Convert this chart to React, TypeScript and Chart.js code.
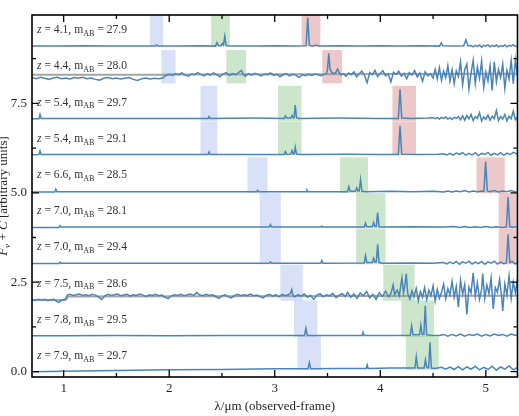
import React, { useEffect, useRef } from "react";
import { Chart, registerables } from "chart.js";

Chart.register(...registerables);

type Pt = [number, number];

// Source properties, top to bottom
const redshifts = [4.047, 4.35, 5.38, 5.38, 6.616, 6.94, 6.94, 7.48, 7.84, 7.93];
const zLabels = ["4.1", "4.4", "5.4", "5.4", "6.6", "7.0", "7.0", "7.5", "7.8", "7.9"];
const magLabels = ["27.9", "28.0", "29.7", "29.1", "28.5", "28.1", "29.4", "28.6", "29.5", "29.7"];
const offsets = [9, 8, 7, 6, 5, 4, 3, 2, 1, 0];
const bandFloor = [9.1, 8.06, 7.0, 6.06, 4.99, 4.0, 3.0, 1.98, 0.97, 0.05];

// Rest-frame windows (Angstrom): [OII], Hbeta+[OIII], Halpha
const windowOII: Pt = [3600, 3850];
const windowOIII: Pt = [4750, 5100];
const windowHa: Pt = [6450, 6800];

const xTicks = [1, 2, 3, 4, 5];
const xMinor = [1.5, 2.5, 3.5, 4.5];
const yTicks = [0, 2.5, 5, 7.5];
const yMinor = [1.25, 3.75, 6.25, 8.75];

// Spectra: [wavelength in micron, flux above offset]
const spec1: Pt[] = [
  [0.70, 0.10], [0.95, 0.10], [1.20, 0.11], [1.45, 0.10], [1.70, 0.10], [1.87, 0.10], [1.881, 0.13], [1.893, 0.10],
  [2.10, 0.10], [2.30, 0.11], [2.44, 0.10], [2.453, 0.20], [2.466, 0.11], [2.49, 0.11], [2.503, 0.17], [2.514, 0.13],
  [2.527, 0.38], [2.54, 0.11], [2.60, 0.10], [2.80, 0.10], [3.00, 0.11], [3.20, 0.10], [3.297, 0.11], [3.3125, 0.90],
  [3.328, 0.12], [3.36, 0.10], [3.393, 0.13], [3.41, 0.10], [3.60, 0.11], [3.80, 0.10], [4.00, 0.11], [4.20, 0.10],
  [4.40, 0.11], [4.562, 0.10], [4.577, 0.19], [4.592, 0.11], [4.70, 0.10], [4.79, 0.11], [4.811, 0.28], [4.83, 0.11],
  [4.86, 0.12], [4.88, 0.08], [4.90, 0.12], [4.92, 0.09], [4.94, 0.13], [4.96, 0.07], [4.98, 0.12], [5.00, 0.10],
  [5.02, 0.14], [5.04, 0.08], [5.06, 0.12], [5.08, 0.09], [5.10, 0.13], [5.12, 0.08], [5.14, 0.11], [5.16, 0.09],
  [5.18, 0.13], [5.20, 0.08], [5.22, 0.12], [5.24, 0.10], [5.26, 0.14], [5.28, 0.09], [5.30, 0.11],
];

const spec2: Pt[] = [
  [0.70, 0.22], [0.74, 0.19], [0.78, 0.23], [0.82, 0.20], [0.86, 0.17], [0.90, 0.21], [0.94, 0.23], [0.98, 0.19],
  [1.02, 0.21], [1.06, 0.18], [1.10, 0.22], [1.14, 0.20], [1.18, 0.23], [1.22, 0.19], [1.26, 0.21], [1.30, 0.17],
  [1.34, 0.15], [1.38, 0.20], [1.42, 0.22], [1.46, 0.19], [1.50, 0.21], [1.54, 0.18], [1.58, 0.20], [1.62, 0.22],
  [1.66, 0.17], [1.70, 0.14], [1.74, 0.19], [1.78, 0.21], [1.82, 0.18], [1.86, 0.20], [1.90, 0.19], [1.94, 0.21],
  [1.97, 0.28], [2.00, 0.31], [2.03, 0.28], [2.06, 0.33], [2.09, 0.30], [2.12, 0.35], [2.15, 0.29], [2.18, 0.26],
  [2.21, 0.32], [2.24, 0.30], [2.27, 0.36], [2.30, 0.31], [2.33, 0.27], [2.36, 0.33], [2.39, 0.29], [2.42, 0.35],
  [2.45, 0.30], [2.48, 0.24], [2.51, 0.32], [2.54, 0.36], [2.57, 0.28], [2.60, 0.33], [2.63, 0.30], [2.66, 0.37],
  [2.684, 0.42], [2.70, 0.31], [2.72, 0.26], [2.75, 0.33], [2.78, 0.29], [2.81, 0.34], [2.84, 0.31], [2.87, 0.27],
  [2.90, 0.32], [2.93, 0.30], [2.96, 0.35], [2.99, 0.28], [3.02, 0.31], [3.05, 0.25], [3.08, 0.30], [3.11, 0.33],
  [3.14, 0.27], [3.17, 0.31], [3.20, 0.29], [3.23, 0.22], [3.26, 0.30], [3.29, 0.27], [3.32, 0.31], [3.35, 0.28],
  [3.38, 0.32], [3.41, 0.30], [3.44, 0.27], [3.47, 0.31], [3.49, 0.33], [3.500, 0.45], [3.512, 0.90], [3.524, 0.46],
  [3.54, 0.36], [3.56, 0.33], [3.58, 0.37], [3.595, 0.46], [3.61, 0.36], [3.63, 0.29], [3.65, 0.33],
  [3.675, 0.26], [3.70, 0.35], [3.725, 0.30], [3.75, 0.38], [3.775, 0.24], [3.80, 0.33], [3.825, 0.40], [3.85, 0.28],
  [3.875, 0.08], [3.90, 0.36], [3.925, 0.30], [3.95, 0.42], [3.975, 0.25], [4.00, 0.34], [4.025, 0.41], [4.05, 0.27],
  [4.075, 0.33], [4.10, 0.10], [4.125, 0.37], [4.15, 0.31], [4.175, 0.40], [4.20, 0.26], [4.225, 0.34], [4.25, 0.19],
  [4.275, 0.36], [4.30, 0.29], [4.325, 0.42], [4.35, 0.24], [4.375, 0.35], [4.40, 0.12], [4.425, 0.38], [4.45, 0.27],
  [4.475, 0.33], [4.50, 0.21], [4.52, 0.45], [4.54, 0.18], [4.56, 0.50], [4.58, 0.14], [4.60, 0.40], [4.62, 0.22],
  [4.64, 0.55], [4.66, 0.12], [4.68, 0.44], [4.70, 0.05], [4.72, 0.41], [4.74, 0.25], [4.76, 0.66], [4.78, 0.02],
  [4.80, 0.45], [4.82, 0.60], [4.84, -0.10], [4.86, 0.35], [4.88, 0.70], [4.90, 0.05], [4.92, 0.52], [4.94, 0.20],
  [4.96, 0.68], [4.98, -0.05], [5.00, 0.38], [5.02, 0.12], [5.04, 0.55], [5.06, -0.14], [5.08, 0.66], [5.10, 0.10],
  [5.12, 0.45], [5.14, 0.22], [5.16, 0.60], [5.18, -0.08], [5.20, 0.42], [5.22, 0.18], [5.24, 0.70], [5.26, 0.05],
  [5.28, 0.72], [5.30, 0.25],
];

const spec3: Pt[] = [
  [0.70, 0.07], [0.766, 0.07], [0.776, 0.19], [0.786, 0.08], [1.20, 0.08], [1.70, 0.08], [2.10, 0.08], [2.368, 0.08],
  [2.378, 0.13], [2.388, 0.08], [2.80, 0.09], [3.089, 0.08], [3.101, 0.15], [3.113, 0.09], [3.152, 0.09], [3.164, 0.16],
  [3.176, 0.09], [3.184, 0.11], [3.194, 0.45], [3.206, 0.10], [3.23, 0.08], [3.60, 0.09], [4.00, 0.08], [4.171, 0.08],
  [4.187, 0.89], [4.203, 0.09], [4.30, 0.08], [4.45, 0.09], [4.50, 0.10], [4.52, 0.07], [4.54, 0.10], [4.56, 0.06],
  [4.58, 0.11], [4.60, 0.08], [4.62, 0.12], [4.64, 0.06], [4.66, 0.10], [4.68, 0.05], [4.70, 0.11], [4.72, 0.08],
  [4.74, 0.13], [4.76, 0.04], [4.78, 0.15], [4.80, 0.03], [4.82, 0.16], [4.84, 0.07], [4.86, 0.19], [4.88, 0.02],
  [4.90, 0.13], [4.92, 0.08], [4.94, 0.24], [4.96, 0.01], [4.98, 0.12], [5.00, 0.05], [5.02, 0.17], [5.04, 0.03],
  [5.06, 0.14], [5.08, 0.07], [5.10, 0.30], [5.12, 0.02], [5.14, 0.13], [5.16, 0.06], [5.18, 0.19], [5.20, 0.01],
  [5.22, 0.14], [5.24, 0.07], [5.26, 0.28], [5.28, 0.04], [5.30, 0.12],
];

const spec4: Pt[] = [
  [0.70, 0.06], [0.766, 0.07], [0.776, 0.17], [0.786, 0.07], [1.20, 0.07], [1.70, 0.07], [2.10, 0.07], [2.368, 0.07],
  [2.378, 0.14], [2.388, 0.07], [2.80, 0.07], [3.089, 0.07], [3.101, 0.15], [3.113, 0.07], [3.152, 0.08], [3.164, 0.18],
  [3.176, 0.08], [3.184, 0.09], [3.194, 0.28], [3.206, 0.08], [3.24, 0.07], [3.70, 0.08], [4.00, 0.07], [4.171, 0.07],
  [4.187, 0.87], [4.203, 0.08], [4.35, 0.07], [4.55, 0.08], [4.60, 0.09], [4.63, 0.06], [4.66, 0.10], [4.69, 0.05],
  [4.72, 0.11], [4.75, 0.07], [4.78, 0.12], [4.81, 0.05], [4.84, 0.10], [4.87, 0.06], [4.90, 0.12], [4.93, 0.04],
  [4.96, 0.10], [4.99, 0.07], [5.02, 0.13], [5.05, 0.05], [5.08, 0.10], [5.11, 0.06], [5.14, 0.12], [5.17, 0.05],
  [5.20, 0.11], [5.23, 0.07], [5.26, 0.13], [5.30, 0.08],
];

const spec5: Pt[] = [
  [0.70, 0.02], [0.915, 0.02], [0.926, 0.10], [0.937, 0.03], [1.30, 0.03], [1.80, 0.03], [2.30, 0.03], [2.828, 0.03],
  [2.838, 0.07], [2.848, 0.03], [3.10, 0.03], [3.297, 0.03], [3.305, 0.07], [3.313, 0.03], [3.690, 0.03], [3.702, 0.17],
  [3.714, 0.04], [3.765, 0.04], [3.777, 0.14], [3.789, 0.05], [3.800, 0.05], [3.813, 0.37], [3.826, 0.04], [3.86, 0.03],
  [4.10, 0.04], [4.30, 0.03], [4.50, 0.04], [4.60, 0.02], [4.64, 0.05], [4.68, 0.02], [4.72, 0.05], [4.76, 0.03],
  [4.80, 0.06], [4.84, 0.02], [4.88, 0.05], [4.92, 0.03], [4.96, 0.05], [4.982, 0.04], [4.998, 0.87], [5.014, 0.05],
  [5.04, 0.03], [5.08, 0.06], [5.12, 0.02], [5.16, 0.05], [5.20, 0.03], [5.24, 0.06], [5.28, 0.02], [5.30, 0.04],
];

const spec6: Pt[] = [
  [0.70, 0.03], [0.955, 0.03], [0.965, 0.08], [0.975, 0.04], [1.50, 0.04], [2.00, 0.04], [2.50, 0.04], [2.948, 0.04],
  [2.959, 0.11], [2.970, 0.04], [3.20, 0.04], [3.438, 0.04], [3.446, 0.07], [3.454, 0.04], [3.848, 0.04], [3.860, 0.15],
  [3.872, 0.05], [3.925, 0.05], [3.937, 0.17], [3.949, 0.06], [3.962, 0.06], [3.975, 0.45], [3.988, 0.05], [4.02, 0.04],
  [4.30, 0.05], [4.60, 0.04], [4.70, 0.06], [4.75, 0.03], [4.80, 0.06], [4.85, 0.03], [4.90, 0.05], [4.95, 0.03],
  [5.00, 0.06], [5.05, 0.03], [5.10, 0.05], [5.15, 0.03], [5.195, 0.04], [5.211, 0.88], [5.227, 0.05], [5.26, 0.04],
  [5.30, 0.06],
];

const spec7: Pt[] = [
  [0.70, 0.02], [0.955, 0.02], [0.965, 0.06], [0.975, 0.03], [1.50, 0.03], [2.00, 0.03], [2.50, 0.03], [2.948, 0.03],
  [2.959, 0.07], [2.970, 0.03], [3.20, 0.03], [3.436, 0.03], [3.446, 0.11], [3.456, 0.03], [3.848, 0.04], [3.860, 0.24],
  [3.872, 0.05], [3.925, 0.05], [3.937, 0.17], [3.949, 0.06], [3.962, 0.07], [3.975, 0.56], [3.988, 0.05], [4.02, 0.03],
  [4.30, 0.04], [4.50, 0.03], [4.60, 0.05], [4.63, 0.01], [4.66, 0.06], [4.69, 0.02], [4.72, 0.08], [4.75, 0.00],
  [4.78, 0.07], [4.81, 0.03], [4.84, 0.09], [4.87, 0.01], [4.90, 0.06], [4.93, 0.02], [4.96, 0.08], [4.99, 0.00],
  [5.02, 0.07], [5.05, 0.03], [5.08, 0.09], [5.11, 0.01], [5.14, 0.06], [5.17, 0.02], [5.195, 0.04], [5.211, 0.84],
  [5.227, 0.05], [5.25, 0.08], [5.28, 0.01], [5.30, 0.05],
];

const spec8: Pt[] = [
  [0.70, 0.01], [0.73, -0.01], [0.76, 0.02], [0.79, 0.00], [0.82, 0.02], [0.85, -0.02], [0.88, 0.01], [0.91, 0.02],
  [0.93, -0.03], [0.955, -0.07], [0.975, -0.01], [1.00, 0.01], [1.02, 0.04], [1.035, 0.14], [1.06, 0.16], [1.09, 0.13],
  [1.12, 0.15], [1.15, 0.17], [1.18, 0.13], [1.21, 0.15], [1.24, 0.12], [1.27, 0.16], [1.30, 0.14], [1.33, 0.09],
  [1.36, 0.02], [1.39, 0.12], [1.42, 0.16], [1.45, 0.13], [1.48, 0.15], [1.51, 0.17], [1.54, 0.12], [1.57, 0.14],
  [1.60, 0.16], [1.63, 0.11], [1.66, 0.15], [1.69, 0.13], [1.72, 0.17], [1.75, 0.14], [1.78, 0.10], [1.81, 0.15],
  [1.84, 0.13], [1.87, 0.16], [1.90, 0.12], [1.93, 0.14], [1.96, 0.08], [1.99, 0.04], [2.02, 0.12], [2.05, 0.15],
  [2.08, 0.13], [2.11, 0.16], [2.14, 0.12], [2.17, 0.14], [2.20, 0.17], [2.23, 0.13], [2.26, 0.21], [2.29, 0.14],
  [2.32, 0.12], [2.35, 0.16], [2.38, 0.13], [2.41, 0.15], [2.44, 0.10], [2.47, 0.05], [2.50, 0.12], [2.53, 0.15],
  [2.56, 0.09], [2.59, 0.06], [2.62, 0.13], [2.65, 0.16], [2.68, 0.12], [2.71, 0.15], [2.74, 0.13], [2.77, 0.17],
  [2.80, 0.12], [2.83, 0.14], [2.86, 0.10], [2.89, 0.06], [2.92, 0.13], [2.95, 0.16], [2.98, 0.11], [3.01, 0.15],
  [3.04, 0.09], [3.07, 0.16], [3.10, 0.12], [3.13, 0.15], [3.150, 0.19], [3.161, 0.29], [3.172, 0.14], [3.19, 0.09],
  [3.22, 0.15], [3.25, 0.11], [3.28, 0.17], [3.31, 0.08], [3.34, 0.13], [3.37, 0.02], [3.40, 0.14], [3.43, 0.18],
  [3.46, 0.09], [3.49, 0.15], [3.52, 0.12], [3.55, 0.19], [3.58, 0.07], [3.61, 0.14], [3.64, 0.18], [3.67, 0.10],
  [3.69, 0.22], [3.72, 0.08], [3.75, 0.17], [3.78, 0.05], [3.81, 0.20], [3.84, 0.12], [3.87, 0.24], [3.90, 0.06],
  [3.93, 0.16], [3.96, 0.02], [3.99, 0.21], [4.02, 0.10], [4.05, 0.25], [4.08, 0.09], [4.10, 0.18], [4.122, 0.42],
  [4.135, 0.15], [4.16, 0.28], [4.18, 0.12], [4.205, 0.62], [4.22, 0.20], [4.232, 0.38], [4.246, 0.74], [4.26, 0.18],
  [4.28, 0.03], [4.30, 0.26], [4.32, 0.10], [4.34, 0.33], [4.36, -0.02], [4.38, 0.24], [4.40, 0.08], [4.42, 0.35],
  [4.44, 0.02], [4.46, 0.28], [4.48, 0.12], [4.50, 0.40], [4.52, -0.03], [4.54, 0.30], [4.56, 0.05], [4.58, 0.22],
  [4.60, 0.45], [4.62, 0.04], [4.64, 0.32], [4.66, 0.15], [4.68, 0.52], [4.70, 0.08], [4.72, 0.38], [4.74, -0.20],
  [4.76, 0.55], [4.78, 0.16], [4.80, 0.44], [4.82, -0.40], [4.84, 0.36], [4.86, 0.20], [4.88, 0.76], [4.90, 0.10],
  [4.92, 0.48], [4.94, 0.02], [4.96, 0.30], [4.97, 0.74], [4.99, 0.05], [5.01, 0.42], [5.03, 0.18], [5.05, 0.62],
  [5.07, -0.25], [5.09, 0.35], [5.11, 0.22], [5.13, 0.58], [5.15, 0.08], [5.16, -0.30], [5.18, 0.45], [5.20, 0.14],
  [5.22, 0.68], [5.24, 0.05], [5.26, 0.50], [5.28, 0.20], [5.30, 0.60],
];

const spec9: Pt[] = [
  [0.70, 0.00], [1.00, 0.00], [1.50, 0.01], [2.00, 0.00], [2.50, 0.01], [3.00, 0.01], [3.282, 0.01], [3.295, 0.21],
  [3.308, 0.01], [3.50, 0.01], [3.828, 0.01], [3.837, 0.10], [3.846, 0.01], [4.10, 0.01], [4.284, 0.02], [4.297, 0.28],
  [4.310, 0.03], [4.372, 0.03], [4.384, 0.30], [4.396, 0.04], [4.413, 0.04], [4.426, 0.84], [4.439, 0.03], [4.48, 0.02],
  [4.56, 0.01], [4.60, 0.04], [4.64, -0.01], [4.68, 0.04], [4.72, 0.00], [4.76, 0.05], [4.80, -0.01], [4.84, 0.04],
  [4.88, 0.01], [4.92, 0.05], [4.96, -0.01], [5.00, 0.04], [5.04, 0.00], [5.08, 0.05], [5.12, 0.01], [5.16, 0.04],
  [5.20, -0.01], [5.24, 0.05], [5.28, 0.01], [5.30, 0.03],
];

const spec10: Pt[] = [
  [0.70, 0.00], [1.00, 0.01], [1.50, 0.03], [2.00, 0.05], [2.50, 0.06], [3.00, 0.08], [3.315, 0.08], [3.328, 0.25],
  [3.341, 0.08], [3.60, 0.09], [3.867, 0.09], [3.876, 0.19], [3.885, 0.09], [4.10, 0.10], [4.328, 0.10], [4.341, 0.42],
  [4.354, 0.10], [4.415, 0.10], [4.428, 0.33], [4.441, 0.11], [4.458, 0.11], [4.471, 0.82], [4.484, 0.10], [4.52, 0.09],
  [4.58, 0.12], [4.62, 0.07], [4.66, 0.13], [4.70, 0.06], [4.74, 0.14], [4.78, 0.05], [4.82, 0.13], [4.86, 0.07],
  [4.90, 0.15], [4.94, 0.05], [4.98, 0.12], [5.02, 0.06], [5.06, 0.15], [5.10, 0.04], [5.14, 0.13], [5.18, 0.07],
  [5.22, 0.16], [5.26, 0.05], [5.30, 0.12],
];

// Smooth continuum models for the two bright sources
const model2: Pt[] = [[0.70, 0.30], [1.95, 0.30], [1.98, 0.31], [5.30, 0.33]];
const model8: Pt[] = [[0.70, 0.00], [1.02, 0.00], [1.04, 0.10], [5.30, 0.12]];

const spectra: Pt[][] = [spec1, spec2, spec3, spec4, spec5, spec6, spec7, spec8, spec9, spec10];

const SERIF = "'Liberation Serif', 'Times New Roman', Times, serif";
const LINE_COLOR = "#4a85b8";
const MODEL_COLOR = "rgba(155,155,155,0.9)";
const TEXT_COLOR = "#262626";

const windowColors: [Pt, string][] = [
  [windowOII, "rgba(65,105,225,0.2)"],
  [windowOIII, "rgba(0,128,0,0.2)"],
  [windowHa, "rgba(178,34,34,0.25)"],
];

type Piece = { t: string; italic?: boolean; sub?: boolean };

function drawPieces(ctx: CanvasRenderingContext2D, pieces: Piece[], x: number, y: number, size: number, center: boolean) {
  const font = (p: Piece) => `${p.italic ? "italic " : ""}${p.sub ? size * 0.7 : size}px ${SERIF}`;
  let total = 0;
  for (const p of pieces) {
    ctx.font = font(p);
    total += ctx.measureText(p.t).width;
  }
  let cx = center ? x - total / 2 : x;
  for (const p of pieces) {
    ctx.font = font(p);
    ctx.fillText(p.t, cx, p.sub ? y + size * 0.25 : y);
    cx += ctx.measureText(p.t).width;
  }
}

const windowPlugin = {
  id: "lineWindows",
  beforeDatasetsDraw(chart: any) {
    const { ctx, chartArea: a, scales } = chart;
    const xs = scales.x;
    const ys = scales.y;
    ctx.save();
    ctx.beginPath();
    ctx.rect(a.left, a.top, a.right - a.left, a.bottom - a.top);
    ctx.clip();
    redshifts.forEach((z, i) => {
      const yTop = ys.getPixelForValue(offsets[i] + 0.99);
      const yBot = ys.getPixelForValue(bandFloor[i]);
      windowColors.forEach(([w, color]) => {
        const x0 = xs.getPixelForValue((w[0] * (1 + z)) / 1e4);
        const x1 = xs.getPixelForValue((w[1] * (1 + z)) / 1e4);
        ctx.fillStyle = color;
        ctx.fillRect(x0, yTop, x1 - x0, yBot - yTop);
      });
    });
    ctx.restore();
  },
};

const framePlugin = {
  id: "frameAndLabels",
  afterDraw(chart: any) {
    const { ctx, chartArea: a, scales } = chart;
    const xs = scales.x;
    const ys = scales.y;
    ctx.save();
    ctx.strokeStyle = "#000";
    ctx.lineWidth = 1.6;
    ctx.strokeRect(a.left, a.top, a.right - a.left, a.bottom - a.top);
    ctx.lineWidth = 1.3;
    ctx.beginPath();
    const vTick = (v: number, len: number) => {
      const px = xs.getPixelForValue(v);
      ctx.moveTo(px, a.bottom);
      ctx.lineTo(px, a.bottom - len);
      ctx.moveTo(px, a.top);
      ctx.lineTo(px, a.top + len);
    };
    const hTick = (v: number, len: number) => {
      const py = ys.getPixelForValue(v);
      ctx.moveTo(a.left, py);
      ctx.lineTo(a.left + len, py);
      ctx.moveTo(a.right, py);
      ctx.lineTo(a.right - len, py);
    };
    xTicks.forEach((v) => vTick(v, 7));
    xMinor.forEach((v) => vTick(v, 4));
    yTicks.forEach((v) => hTick(v, 7));
    yMinor.forEach((v) => hTick(v, 4));
    ctx.stroke();

    // Source labels
    ctx.fillStyle = "#333";
    ctx.textBaseline = "alphabetic";
    ctx.textAlign = "left";
    const slot = (a.bottom - a.top) / 10;
    zLabels.forEach((zl, i) => {
      drawPieces(
        ctx,
        [
          { t: "z", italic: true },
          { t: ` = ${zl}, m` },
          { t: "AB", sub: true },
          { t: ` = ${magLabels[i]}` },
        ],
        a.left + 5,
        a.top + (i + 0.5) * slot,
        11.6,
        false
      );
    });

    // Vertical axis title
    ctx.save();
    ctx.translate(6.5, (a.top + a.bottom) / 2);
    ctx.rotate(-Math.PI / 2);
    ctx.fillStyle = TEXT_COLOR;
    drawPieces(
      ctx,
      [
        { t: "F", italic: true },
        { t: "ν", italic: true, sub: true },
        { t: " + " },
        { t: "C", italic: true },
        { t: " [arbitrary units]" },
      ],
      0,
      0,
      13,
      true
    );
    ctx.restore();
    ctx.restore();
  },
};

export default function App() {
  const ref = useRef<HTMLCanvasElement>(null);

  useEffect(() => {
    const canvas = ref.current;
    if (!canvas) return;
    const datasets: any[] = spectra.map((s, i) => ({
      data: s.map(([x, f]) => ({ x, y: offsets[i] + f })),
      borderColor: LINE_COLOR,
      borderWidth: 1.5,
      pointRadius: 0,
      tension: 0,
      order: 0,
    }));
    [
      [model2, offsets[1]],
      [model8, offsets[7]],
    ].forEach(([m, off]: any) => {
      datasets.push({
        data: (m as Pt[]).map(([x, f]) => ({ x, y: (off as number) + f })),
        borderColor: MODEL_COLOR,
        borderWidth: 2,
        pointRadius: 0,
        tension: 0,
        order: 1,
      });
    });

    const tickFont = { family: SERIF, size: 13 };
    const chart = new Chart(canvas, {
      type: "line",
      data: { datasets },
      options: {
        animation: false,
        responsive: false,
        events: [],
        layout: { padding: { top: 15, right: 1.5, left: 0, bottom: 0 } },
        plugins: { legend: { display: false }, tooltip: { enabled: false } },
        scales: {
          x: {
            type: "linear",
            min: 0.7,
            max: 5.3,
            grid: { display: false, drawTicks: false },
            border: { display: false },
            ticks: { font: tickFont, color: TEXT_COLOR, padding: 4, maxRotation: 0, autoSkip: false, callback: (v: any) => String(v) },
            afterBuildTicks: (s: any) => {
              s.ticks = xTicks.map((v) => ({ value: v }));
            },
            afterFit: (s: any) => {
              s.height = 39;
            },
            title: {
              display: true,
              text: "λ/μm (observed-frame)",
              font: tickFont,
              color: TEXT_COLOR,
              padding: { top: 0, bottom: 2 },
            },
          },
          y: {
            type: "linear",
            min: -0.15,
            max: 9.97,
            grid: { display: false, drawTicks: false },
            border: { display: false },
            ticks: { font: tickFont, color: TEXT_COLOR, padding: 5, callback: (v: any) => Number(v).toFixed(1) },
            afterBuildTicks: (s: any) => {
              s.ticks = yTicks.map((v) => ({ value: v }));
            },
            afterFit: (s: any) => {
              s.width = 32;
            },
          },
        },
      } as any,
      plugins: [windowPlugin, framePlugin],
    });
    return () => chart.destroy();
  }, []);

  return (
    <div style={{ position: "fixed", left: 0, top: 0, width: 519, height: 416, background: "#fff" }}>
      <canvas ref={ref} width={519} height={416} />
    </div>
  );
}
